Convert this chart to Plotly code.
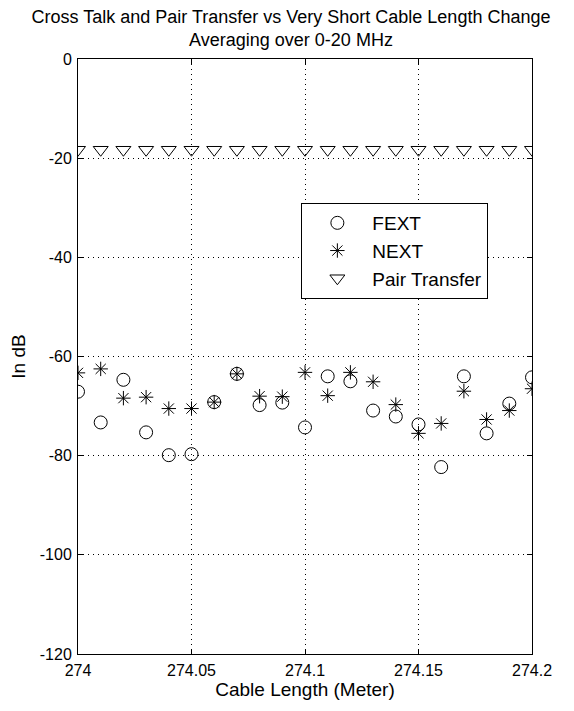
import plotly.graph_objects as go

cable_length = [274.00, 274.01, 274.02, 274.03, 274.04, 274.05, 274.06, 274.07, 274.08, 274.09, 274.10,
                274.11, 274.12, 274.13, 274.14, 274.15, 274.16, 274.17, 274.18, 274.19, 274.20]
fext = [-67.1, -73.3, -64.7, -75.3, -79.9, -79.7, -69.2, -63.5, -69.8, -69.3, -74.3,
        -64.0, -65.0, -70.9, -72.1, -73.7, -82.3, -64.0, -75.5, -69.5, -64.2]
next_ = [-63.3, -62.5, -68.4, -68.2, -70.5, -70.5, -69.2, -63.5, -68.0, -68.1, -63.2,
         -67.9, -63.2, -65.1, -69.7, -75.5, -73.5, -67.0, -72.7, -70.9, -66.5]
pair_transfer = [-18.3] * 21

x_ticks = [274, 274.05, 274.1, 274.15, 274.2]
x_tick_labels = ["274", "274.05", "274.1", "274.15", "274.2"]
y_ticks = [0, -20, -40, -60, -80, -100, -120]
y_tick_labels = ["0", "-20", "-40", "-60", "-80", "-100", "-120"]

FONT = "Liberation Sans, Arial, sans-serif"

fig = go.Figure()
fig.add_trace(go.Scatter(x=cable_length, y=fext, mode="markers", name="FEXT",
                         marker=dict(symbol="circle-open", size=13, color="black", line=dict(width=1))))
fig.add_trace(go.Scatter(x=cable_length, y=next_, mode="markers", name="NEXT",
                         marker=dict(symbol="asterisk-open", size=12, color="black", line=dict(width=1))))
fig.add_trace(go.Scatter(x=cable_length, y=pair_transfer, mode="markers", name="Pair Transfer",
                         marker=dict(symbol="triangle-down-open", size=13, color="black", line=dict(width=1))))

# page body adds an 8px offset, so the figure is sized to fit the window exactly
fig.update_layout(
    width=566, height=703,
    paper_bgcolor="white", plot_bgcolor="white",
    margin=dict(l=70, r=42, t=51, b=57),
    font=dict(family=FONT, size=16, color="black"),
    title=dict(text="Cross Talk and Pair Transfer vs Very Short Cable Length Change<br>Averaging over 0-20 MHz",
               x=0.5, xanchor="center", y=0.979, yanchor="top",
               font=dict(family=FONT, size=18, color="black")),
    showlegend=True,
    legend=dict(x=0.492, y=0.758, xanchor="left", yanchor="top",
                bgcolor="white", bordercolor="black", borderwidth=1,
                font=dict(family=FONT, size=19, color="black"),
                itemwidth=60, tracegroupgap=0),
)
fig.update_xaxes(range=[274, 274.2], tickvals=x_ticks, ticktext=x_tick_labels,
                 showline=True, linecolor="black", linewidth=1, mirror="ticks",
                 ticks="inside", ticklen=5, tickcolor="black",
                 showgrid=True, gridcolor="black", griddash="1px,4px", gridwidth=1,
                 zeroline=False, automargin=False, ticklabelstandoff=2,
                 title=dict(text="Cable Length (Meter)", standoff=2, font=dict(family=FONT, size=19)),
                 tickfont=dict(family=FONT, size=16))
fig.update_yaxes(range=[-120, 0], tickvals=y_ticks, ticktext=y_tick_labels,
                 showline=True, linecolor="black", linewidth=1, mirror="ticks",
                 ticks="inside", ticklen=5, tickcolor="black",
                 showgrid=True, gridcolor="black", griddash="1px,4px", gridwidth=1,
                 zeroline=False, automargin=False, ticklabelstandoff=2,
                 title=dict(text="In dB", standoff=18, font=dict(family=FONT, size=19)),
                 tickfont=dict(family=FONT, size=16))

fig.write_html("out.html")
